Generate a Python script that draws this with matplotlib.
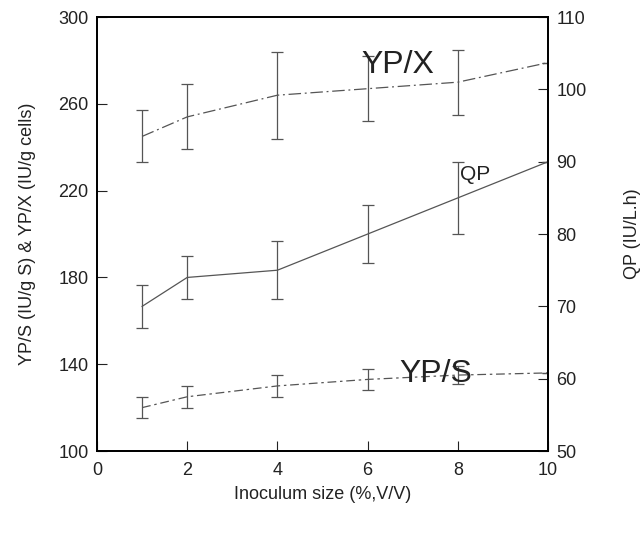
import matplotlib
matplotlib.use("Agg")
import matplotlib.pyplot as plt

inoculum = [1, 2, 4, 6, 8, 10]

# Left axis: YP/X (IU/g cells) and YP/S (IU/g S)
yp_x = [245, 254, 264, 267, 270, 279]
yp_x_err = [12, 15, 20, 15, 15, 0]

yp_s = [120, 125, 130, 133, 135, 136]
yp_s_err = [5, 5, 5, 5, 4, 0]

# Right axis: QP (IU/L.h)
qp = [70, 74, 75, 80, 85, 90]
qp_err = [3, 3, 4, 4, 5, 0]

left_ticks = [100, 140, 180, 220, 260, 300]
right_ticks = [50, 60, 70, 80, 90, 100, 110]
x_ticks = [0, 2, 4, 6, 8, 10]

INK = "#222222"
LINE = "#555555"


def style_axis(ax):
    '''
    Inward ticks, no padding, like the old printed figure
    '''
    ax.tick_params(direction="in", length=7, width=0.8, colors=INK, labelsize=13, pad=6)
    for side in ax.spines.values():
        side.set_linewidth(1.3)
        side.set_color("black")


def main():
    plt.rcParams["font.family"] = ["Liberation Sans", "DejaVu Sans"]

    fig = plt.figure(figsize=(6.44, 5.34), dpi=100)
    ax = fig.add_axes([0.1506, 0.1554, 0.7004, 0.8126])
    ax2 = ax.twinx()

    err_kw = dict(ecolor=LINE, elinewidth=0.9, capsize=4, capthick=0.9)

    # YP/X - dash dot
    ax.errorbar(inoculum, yp_x, yerr=yp_x_err, color=LINE, lw=0.9,
                dashes=(10, 3, 1.5, 3), **err_kw)
    # YP/S - dashed
    ax.errorbar(inoculum, yp_s, yerr=yp_s_err, color=LINE, lw=0.9,
                dashes=(7, 3, 2, 3), **err_kw)
    # QP - solid, on right axis
    ax2.errorbar(inoculum, qp, yerr=qp_err, color=LINE, lw=0.9, **err_kw)

    ax.set_xlim(0, 10)
    ax.set_ylim(100, 300)
    ax2.set_ylim(50, 110)
    ax.set_xticks(x_ticks)
    ax.set_yticks(left_ticks)
    ax2.set_yticks(right_ticks)

    style_axis(ax)
    style_axis(ax2)
    ax.tick_params(axis="x", pad=8)

    ax.set_xlabel("Inoculum size (%,V/V)", fontsize=13, color=INK, labelpad=5)
    ax.set_ylabel("YP/S (IU/g S) & YP/X (IU/g cells)", fontsize=13, color=INK, labelpad=16)
    ax2.set_ylabel("QP (IU/L.h)", fontsize=13, color=INK, labelpad=27)

    # Series labels placed in the plot like the original
    ax.text(5.85, 278, "YP/X", fontsize=23, color=INK, va="center", ha="left")
    ax2.text(8.05, 88.2, "QP", fontsize=15, color=INK, va="center", ha="left")
    ax.text(6.7, 135.5, "YP/S", fontsize=23, color=INK, va="center", ha="left")

    fig.savefig("out.png", dpi=100)


if __name__ == '__main__':
    main()
